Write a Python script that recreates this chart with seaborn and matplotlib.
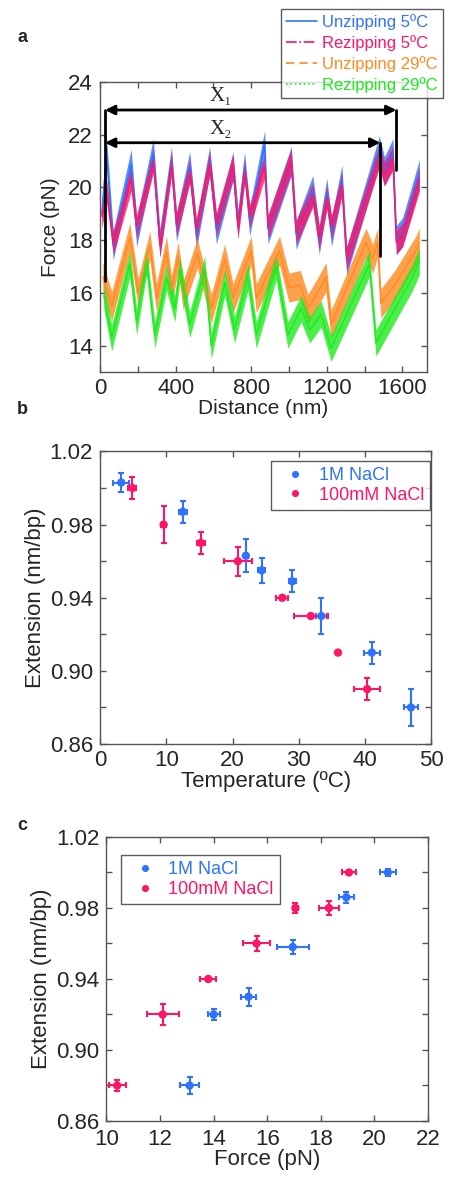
import matplotlib
matplotlib.use("Agg")
from matplotlib import pyplot as plt
import numpy as np
import pandas as pd
import seaborn as sns

# ---- panel a: force traces (sawtooth vertices) ----
unzip5_x = [10, 35, 70, 165, 194, 282, 317, 378, 405, 475, 510, 580, 616, 704, 730, 765, 792,
            871, 889, 1012, 1038, 1126, 1160, 1200, 1225, 1280, 1305, 1478, 1505, 1550, 1568, 1601, 1690]
unzip5_f = [19.0, 21.3, 17.8, 20.9, 18.3, 21.3, 17.9, 21.0, 18.5, 20.8, 18.2, 21.0, 18.4, 20.8, 18.6, 20.8, 18.7,
            21.6, 18.4, 21.0, 18.2, 19.9, 18.0, 19.8, 18.3, 20.3, 17.2, 21.4, 20.6, 21.3, 18.0, 18.3, 20.5]
rezip5_x = [10, 35, 70, 165, 194, 282, 317, 378, 405, 475, 510, 580, 616, 704, 730, 765, 792,
            871, 889, 1012, 1038, 1126, 1160, 1200, 1225, 1280, 1305, 1478, 1505, 1550, 1568, 1601, 1690]
rezip5_f = [18.9, 19.9, 17.9, 20.3, 18.5, 21.0, 17.8, 20.9, 18.6, 20.6, 18.4, 20.9, 18.6, 20.8, 18.5, 20.6, 18.9,
            20.8, 18.5, 21.0, 18.3, 19.7, 18.1, 19.6, 18.5, 20.1, 17.3, 21.2, 20.5, 21.1, 17.9, 18.2, 20.3]
unzip29_x = [15, 62, 158, 202, 264, 299, 352, 378, 414, 440, 515, 589, 660, 704, 800, 827, 950, 1000,
             1060, 1100, 1150, 1196, 1223, 1407, 1443, 1469, 1486, 1560, 1671, 1690]
unzip29_f = [16.6, 15.5, 18.1, 16.0, 17.8, 15.8, 17.6, 16.1, 17.4, 15.9, 17.5, 15.4, 17.3, 15.8, 17.6, 15.8, 17.6, 16.2,
             16.3, 15.4, 16.0, 16.6, 14.8, 17.9, 17.3, 17.9, 15.6, 16.3, 17.6, 17.9]
rezip29_x = [20, 62, 158, 194, 246, 290, 352, 396, 422, 475, 554, 589, 660, 712, 783, 827, 932, 994,
             1064, 1110, 1170, 1223, 1425, 1460, 1654, 1690]
rezip29_f = [15.9, 14.3, 17.1, 14.9, 17.2, 14.4, 16.6, 15.4, 16.9, 14.8, 16.9, 14.0, 16.4, 14.6, 16.6, 14.4, 17.0, 14.4,
             15.4, 14.6, 15.2, 13.9, 17.1, 14.1, 16.6, 17.2]
trace_labels = ["Unzipping 5ºC", "Rezipping 5ºC", "Unzipping 29ºC", "Rezipping 29ºC"]

# ---- panel b: extension vs temperature ----
b_1m_temp = [3.2, 12.5, 22.0, 24.4, 29.0, 33.4, 41.0, 46.9]
b_1m_ext = [1.003, 0.987, 0.963, 0.955, 0.949, 0.930, 0.910, 0.880]
b_1m_terr = [1.2, 0.6, 0.3, 0.5, 0.5, 0.8, 1.2, 1.0]
b_1m_eerr = [0.005, 0.006, 0.009, 0.007, 0.006, 0.010, 0.006, 0.010]
b_100_temp = [4.9, 9.6, 15.2, 20.8, 27.5, 31.8, 35.9, 40.3]
b_100_ext = [1.000, 0.980, 0.970, 0.960, 0.940, 0.930, 0.910, 0.890]
b_100_terr = [0.6, 0.4, 0.6, 2.1, 0.9, 2.6, 0.0, 2.0]
b_100_eerr = [0.006, 0.010, 0.006, 0.008, 0.001, 0.0, 0.0, 0.006]

# ---- panel c: extension vs force ----
c_1m_force = [13.1, 14.0, 15.3, 16.95, 18.95, 20.5]
c_1m_ext = [0.880, 0.920, 0.930, 0.958, 0.986, 1.000]
c_1m_ferr = [0.37, 0.23, 0.28, 0.6, 0.28, 0.3]
c_1m_eerr = [0.005, 0.003, 0.005, 0.004, 0.003, 0.002]
c_100_force = [10.4, 12.1, 13.8, 15.6, 17.05, 18.3, 19.05]
c_100_ext = [0.880, 0.920, 0.940, 0.960, 0.980, 0.980, 1.000]
c_100_ferr = [0.32, 0.6, 0.3, 0.5, 0.1, 0.36, 0.27]
c_100_eerr = [0.003, 0.006, 0.001, 0.004, 0.003, 0.004, 0.001]
salt_labels = ["1M NaCl", "100mM NaCl"]

BLUE = "#2f72ff"
PINK = "#ff1466"
ORANGE = "#ff8a1f"
GREEN = "#1eea1e"

sns.set_theme(style="ticks")
plt.rcParams['font.family'] = ['Liberation Sans', 'DejaVu Sans']
plt.rcParams['axes.edgecolor'] = '#555555'
plt.rcParams['axes.linewidth'] = 1.0

fig = plt.figure(figsize=(4.51, 11.8), dpi=100)


def style_axes(ax, size=16, xpad=4):
    ax.tick_params(direction='in', top=True, right=True, length=4, width=1,
                   color='#555555', labelsize=size)
    ax.tick_params(axis='y', pad=5)
    ax.tick_params(axis='x', pad=xpad)
    for s in ax.spines.values():
        s.set_color('#555555')


# ----------------------------- panel a
ax = fig.add_axes([0.2217, 0.6847, 0.725, 0.246])
series = [
    (unzip5_x, unzip5_f, BLUE, '-', 0.55),
    (rezip5_x, rezip5_f, PINK, '-.', 0.45),
    (unzip29_x, unzip29_f, ORANGE, (0, (5, 3)), 0.55),
    (rezip29_x, rezip29_f, GREEN, ':', 0.5),
]
handles = []
for (xs, fs, col, ls, hw), lab in zip(series, trace_labels):
    df = pd.DataFrame({"Distance": xs, "Force": fs})
    f = np.array(fs)
    ax.fill_between(xs, f - hw, f + hw, color=col, lw=0, alpha=0.8)
    sns.lineplot(data=df, x="Distance", y="Force", ax=ax, color=col, lw=1.0,
                 sort=False, estimator=None, legend=False)
    h, = ax.plot([], [], color=col, ls=ls, lw=1.2, label=lab)
    handles.append(h)

# X1 / X2 markers
ax.plot([27, 27], [16.45, 22.93], color='black', lw=2)
ax.plot([1568, 1568], [20.67, 22.93], color='black', lw=2)
ax.plot([1483, 1483], [17.38, 21.69], color='black', lw=2)
ax.annotate("", xy=(27, 22.93), xytext=(1568, 22.93),
            arrowprops=dict(arrowstyle='<|-|>', color='black', lw=2, mutation_scale=14,
                            shrinkA=0, shrinkB=0))
ax.annotate("", xy=(27, 21.69), xytext=(1483, 21.69),
            arrowprops=dict(arrowstyle='<|-|>', color='black', lw=2, mutation_scale=14,
                            shrinkA=0, shrinkB=0))
ax.text(640, 23.45, "X₁", ha='center', va='center', fontsize=15,
        family=['Liberation Serif', 'DejaVu Serif'])
ax.text(640, 22.2, "X₂", ha='center', va='center', fontsize=15,
        family=['Liberation Serif', 'DejaVu Serif'])

ax.set_xlim(0, 1730)
ax.set_ylim(13, 24)
ax.set_xticks(np.arange(0, 1700, 200))
ax.set_xticklabels([str(v) if v % 400 == 0 else "" for v in range(0, 1700, 200)])
ax.set_yticks([14, 16, 18, 20, 22, 24])
style_axes(ax, 16)
ax.set_xlabel("Distance (nm)", fontsize=15, labelpad=0)
ax.set_ylabel("Force (pN)", fontsize=15, labelpad=6)
leg = ax.legend(handles=handles, loc='upper left', bbox_to_anchor=(0.553, 1.25),
                fontsize=12, frameon=True, fancybox=False, edgecolor='#333333',
                handlelength=1.9, handletextpad=0.3, labelspacing=0.3,
                borderpad=0.3, borderaxespad=0)
leg.get_frame().set_linewidth(1.0)
for t, c in zip(leg.get_texts(), [BLUE, PINK, ORANGE, GREEN]):
    t.set_color(c)
fig.text(0.05, 1 - 38 / 1180, "a", fontsize=13, fontweight='bold', ha='center', va='center')


def point_panel(ax, groups, err_groups):
    rows = []
    for xs, ys, lab in groups:
        for xv, yv in zip(xs, ys):
            rows.append({"x": xv, "y": yv, "salt": lab})
    df = pd.DataFrame(rows)
    for (xs, ys, xe, ye, col) in err_groups:
        ax.errorbar(xs, ys, xerr=xe, yerr=ye, fmt='none', ecolor=col, elinewidth=1.5,
                    capsize=2.5, capthick=1.5)
    sns.scatterplot(data=df, x="x", y="y", hue="salt", palette=[BLUE, PINK],
                    s=36, linewidth=0, ax=ax, zorder=3)


def finish_legend(ax, anchor):
    leg = ax.legend(loc='upper left', bbox_to_anchor=anchor, fontsize=13,
                    frameon=True, fancybox=False, edgecolor='#333333', handletextpad=0.3,
                    labelspacing=0.15, borderpad=0.35, borderaxespad=0, markerscale=0.85)
    leg.get_frame().set_linewidth(1.0)
    for t, c in zip(leg.get_texts(), [BLUE, PINK]):
        t.set_color(c)


yt = np.round(np.arange(0.86, 1.021, 0.02), 2)
ylabels = [f"{v:.2f}" if round(v * 100) % 4 == 2 else "" for v in yt]

# ----------------------------- panel b
ax = fig.add_axes([0.2217, 0.3695, 0.735, 0.2479])
point_panel(ax,
            [(b_1m_temp, b_1m_ext, salt_labels[0]), (b_100_temp, b_100_ext, salt_labels[1])],
            [(b_1m_temp, b_1m_ext, b_1m_terr, b_1m_eerr, BLUE),
             (b_100_temp, b_100_ext, b_100_terr, b_100_eerr, PINK)])
ax.set_xlim(0, 50)
ax.set_ylim(0.86, 1.02)
ax.set_xticks([0, 10, 20, 30, 40, 50])
ax.set_yticks(yt)
ax.set_yticklabels(ylabels)
style_axes(ax)
ax.set_xlabel("Temperature (ºC)", fontsize=16, labelpad=0)
ax.set_ylabel("Extension (nm/bp)", fontsize=16, labelpad=3)
finish_legend(ax, (0.515, 0.969))
fig.text(0.05, 1 - 410 / 1180, "b", fontsize=13, fontweight='bold', ha='center', va='center')

# ----------------------------- panel c
ax = fig.add_axes([0.2361, 0.05, 0.713, 0.2407])
point_panel(ax,
            [(c_1m_force, c_1m_ext, salt_labels[0]), (c_100_force, c_100_ext, salt_labels[1])],
            [(c_1m_force, c_1m_ext, c_1m_ferr, c_1m_eerr, BLUE),
             (c_100_force, c_100_ext, c_100_ferr, c_100_eerr, PINK)])
ax.set_xlim(10, 22)
ax.set_ylim(0.86, 1.02)
ax.set_xticks([10, 12, 14, 16, 18, 20, 22])
ax.set_yticks(yt)
ax.set_yticklabels(ylabels)
style_axes(ax, 16, xpad=6)
ax.set_xlabel("Force (pN)", fontsize=16, labelpad=-1)
ax.set_ylabel("Extension (nm/bp)", fontsize=16, labelpad=3)
finish_legend(ax, (0.044, 0.937))
fig.text(0.05, 1 - 825 / 1180, "c", fontsize=13, fontweight='bold', ha='center', va='center')

fig.savefig("out.png", dpi=100)
plt.close()
